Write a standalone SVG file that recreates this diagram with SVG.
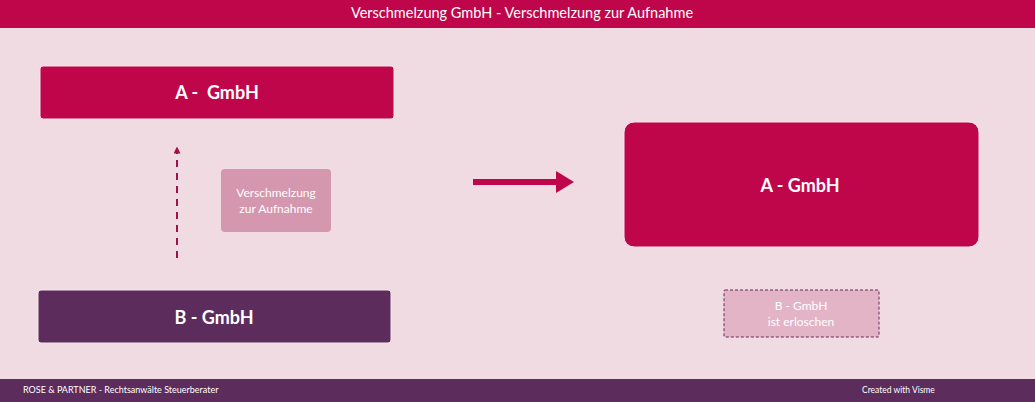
<svg xmlns="http://www.w3.org/2000/svg" width="1035" height="402" viewBox="0 0 1035 402">
<style>
text{font-family:Lato,"Open Sans","Liberation Sans",sans-serif;fill:#fff;text-anchor:middle}
.big{font-size:18px;font-weight:bold}
.small{font-size:12px}
.foot{font-size:9px;text-anchor:start}
.crim{fill:#c0064a;stroke:#f6e6ec;stroke-width:1}
</style>
<defs>
<marker id="ah" viewBox="0 0 10 10" refX="5" refY="5" markerWidth="3.5" markerHeight="3.5" orient="auto">
<path d="M0,0 L10,5 L0,10 z" fill="#a0104a"/>
</marker>
</defs>
<rect x="0" y="0" width="1035" height="402" fill="#efdbe1"/>
<g id="header">
<rect x="0" y="0" width="1035" height="28" fill="#c0064a"/>
<text x="522" y="18" style="font-size:14.5px">Verschmelzung GmbH - Verschmelzung zur Aufnahme</text>
</g>
<g id="node-a-top">
<rect class="crim" x="40" y="66" width="354" height="53" rx="3"/>
<text class="big" x="217" y="99" xml:space="preserve">A -  GmbH</text>
</g>
<g id="node-label">
<rect x="221" y="169" width="110" height="63" rx="4" fill="#d497ad"/>
<text class="small" x="276" y="197">Verschmelzung</text>
<text class="small" x="276" y="213">zur Aufnahme</text>
</g>
<g id="node-b">
<rect x="38" y="290" width="353" height="53" rx="3" fill="#5c2c5c" stroke="#f6e6ec" stroke-width="1"/>
<text class="big" x="214" y="324">B - GmbH</text>
</g>
<g id="node-a-result">
<rect class="crim" x="624" y="122" width="355" height="125" rx="10"/>
<text class="big" x="800" y="192">A - GmbH</text>
</g>
<g id="node-b-gone">
<rect x="724" y="290" width="155" height="47" rx="1" fill="#e2b4c6" stroke="#5c2c5c" stroke-width="1" stroke-dasharray="3,2"/>
<text class="small" x="801" y="310">B - GmbH</text>
<text class="small" x="801" y="326">ist erloschen</text>
</g>
<g id="connectors">
<line x1="177" y1="258" x2="177" y2="150" stroke="#a0104a" stroke-width="2" stroke-dasharray="7,6" marker-end="url(#ah)"/>
<line x1="473" y1="182" x2="558" y2="182" stroke="#c0064a" stroke-width="6"/>
<path d="M556,171 L574,182 L556,193 z" fill="#c0064a"/>
</g>
<g id="footer">
<rect x="0" y="379" width="1035" height="23" fill="#5c2c5c"/>
<text class="foot" x="23" y="393">ROSE &amp; PARTNER - Rechtsanwälte Steuerberater</text>
<text class="foot" x="862" y="393" style="font-size:8.5px">Created with Visme</text>
</g>
</svg>
